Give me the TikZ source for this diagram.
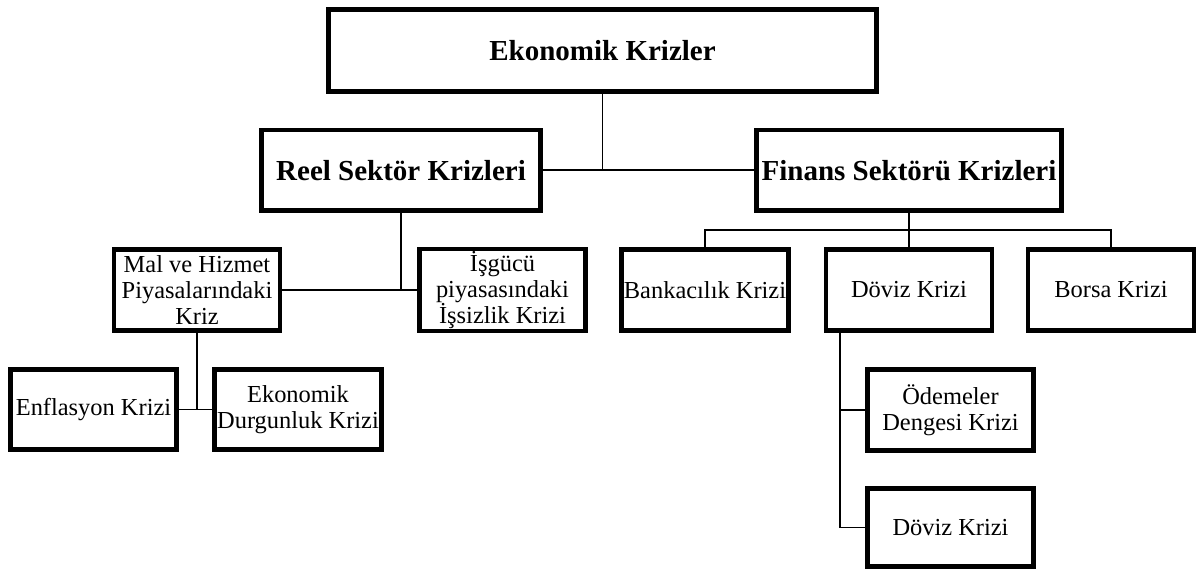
\documentclass[tikz,border=0pt]{standalone}
\usepackage{fontspec}
\setmainfont{Liberation Serif}
\usetikzlibrary{calc}

\begin{document}
\begin{tikzpicture}[
		headbox/.style={
			draw=black,
			line width=2.8pt,
			fill=white,
			align=center,
			inner sep=1mm,
			font=\bfseries\fontsize{16.5}{19}\selectfont
		},
		itembox/.style={
			draw=black,
			line width=2.6pt,
			fill=white,
			minimum width=33.2mm,
			minimum height=16.2mm,
			align=center,
			inner sep=0.5mm,
			font=\fontsize{13.9}{14.8}\selectfont
		},
		link/.style={
			draw=black,
			line width=1.1pt
		}
	]
		\useasboundingbox (0,0) rectangle (23.96,-11.44);

		\node[headbox,minimum width=109.6mm,minimum height=16.4mm] (top) at (12.05,-1.01) {Ekonomik Krizler};
		\node[headbox,minimum width=55.8mm,minimum height=16.1mm] (reel) at (8.02,-3.405) {Reel Sektör Krizleri};
		\node[headbox,minimum width=60.6mm,minimum height=16.1mm] (finans) at (18.18,-3.405) {Finans Sektörü Krizleri};

		\node[itembox] (mal) at (3.94,-5.80) {Mal ve Hizmet\\Piyasalarındaki\\Kriz};
		\node[itembox] (isgucu) at (10.05,-5.80) {İşgücü\\piyasasındaki\\İşsizlik Krizi};
		\node[itembox] (banka) at (14.10,-5.80) {Bankacılık Krizi};
		\node[itembox] (doviz) at (18.18,-5.80) {Döviz Krizi};
		\node[itembox] (borsa) at (22.22,-5.80) {Borsa Krizi};

		\node[itembox,minimum height=16.0mm] (enf) at (1.87,-8.19) {Enflasyon Krizi};
		\node[itembox,minimum height=16.0mm] (durg) at (5.96,-8.19) {Ekonomik\\Durgunluk Krizi};
		\node[itembox] (odeme) at (19.01,-8.20) {Ödemeler\\Dengesi Krizi};
		\node[itembox,minimum height=15.6mm] (doviz2) at (19.01,-10.55) {Döviz Krizi};

		% upper level
		\draw[link] (top.south) -- (top.south |- reel.east);
		\draw[link] (reel.east) -- (finans.west);

		% reel sector branch
		\draw[link] (reel.south) -- (reel.south |- mal.east);
		\draw[link] (mal.east) -- (isgucu.west);
		\draw[link] (mal.south) -- (mal.south |- enf.east);
		\draw[link] (enf.east) -- (durg.west);

		% finance sector branch
		\coordinate (fbar) at (18.18,-4.60);
		\draw[link] (finans.south) -- (doviz.north);
		\draw[link] (banka.north) |- (fbar) -| (borsa.north);

		\coordinate (dtrunk) at ($(doviz.south west)+(0.33,0)$);
		\draw[link] (dtrunk) |- (doviz2.west);
		\draw[link] (dtrunk |- odeme.west) -- (odeme.west);
	\end{tikzpicture}
\end{document}
